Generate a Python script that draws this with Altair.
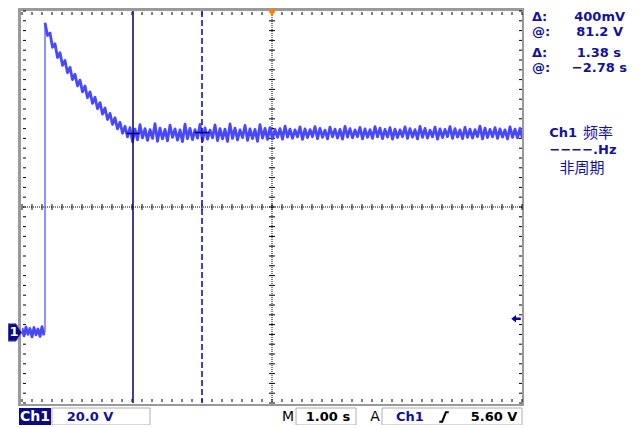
import altair as alt
import pandas as pd

# ---------------- values read from the screen ----------------
# pre-trigger samples (V), 0.04 s apart starting at -5.0 s
pre_t0, pre_dt = -5.0, 0.04
pre_v = [1.8, -1.4, 2.2, -0.8, 1.6, -1.8, 2.0, -1.0, 1.4, -1.6, 2.4, -1.2]

# step edge (s) and its bottom / top levels (V)
edge_t = -4.54
edge_v = [0.0, 126.4]

# samples after the step (V), 0.05 s apart starting at -4.54 s
main_t0, main_dt = -4.54, 0.05
decay_v = [126.4, 121.2, 122.2, 116.4, 117.8, 112.2, 114.2, 109.0, 111.0, 106.0,
           108.2, 103.2, 105.4, 100.6, 103.0, 98.2, 100.6, 95.8, 98.2, 93.5,
           96.0, 91.3, 93.8, 89.1, 91.6, 86.9, 89.4, 84.9, 87.6, 83.1,
           85.8, 81.3, 84.1, 79.8]
flat_v = [83.6, 77.8, 83.0, 78.6, 84.8, 79.4, 83.2, 78.4, 82.8, 79.2,
          85.2, 78.0, 83.4, 79.0, 82.9, 78.2, 84.6, 79.6, 83.1, 78.5,
          82.7, 77.9, 85.0, 79.1, 83.3, 78.7, 82.8, 79.3, 84.9, 78.1,
          83.5, 78.9, 82.6, 79.4, 84.7, 78.3, 83.2, 79.0, 83.0, 77.9,
          85.1, 79.2, 83.4, 78.6, 82.7, 79.5, 84.5, 78.4, 83.1, 79.1,
          82.9, 78.0, 84.8, 79.3, 83.3, 78.8,
          83.6, 79.0, 82.9, 79.6, 83.2, 78.9, 84.2, 79.7, 83.0, 79.2,
          82.7, 79.8, 83.9, 78.8, 83.1, 79.5, 82.8, 79.9, 84.0, 79.1,
          83.3, 79.6, 82.6, 79.0, 83.8, 79.8, 83.0, 79.3, 82.9, 78.9,
          84.1, 79.7, 83.2, 79.4, 82.7, 79.9, 83.7, 79.0, 83.1, 79.6,
          82.8, 79.2, 84.0, 79.8, 83.4, 79.1, 82.9, 79.7, 83.6, 78.9,
          83.0, 79.5, 82.7, 79.9, 83.9, 79.2, 83.2, 79.7, 82.8, 79.0,
          84.1, 79.6, 83.3, 79.3, 82.6, 79.8, 83.8, 78.9, 83.1, 79.5,
          82.9, 79.9, 84.0, 79.2, 83.2, 79.7, 82.7, 79.1, 83.7, 79.6,
          83.0, 79.3, 82.8, 79.9, 84.2, 79.0, 83.4, 79.5, 82.9, 79.8,
          83.6, 79.2, 83.1, 79.7, 82.7, 79.0, 83.9, 79.6, 83.0, 79.4,
          83.3, 79.1]

# cursors
cursor_t = [-2.78, -1.40]
cursor_v = [81.2, 81.6]
trigger_level = 5.60

# screen scales (1 s/div, 20 V/div)
x_major = [-5, -4, -3, -2, -1, 0, 1, 2, 3, 4, 5]
y_major = [-28.8, -8.8, 11.2, 31.2, 51.2, 71.2, 91.2, 111.2, 131.2]
x_minor = [round(-5 + 0.2 * k, 2) for k in range(51)]
y_minor = [round(-28.8 + 4 * k, 2) for k in range(41)]

# ---------------- styling ----------------
W, H = 500, 392
TRACE = "#4848ff"
TXT = "#12129a"
GRAY = "#9a9a9a"
FONT = "DejaVu Sans"

XS = alt.Scale(domain=[-5, 5], nice=False, zero=False)
YS = alt.Scale(domain=[-28.8, 131.2], nice=False, zero=False)

main_v = decay_v + flat_v
pre_df = pd.DataFrame({"t": [pre_t0 + i * pre_dt for i in range(len(pre_v))], "v": pre_v})
pre_df["i"] = range(len(pre_df))
main_df = pd.DataFrame({"t": [main_t0 + i * main_dt for i in range(len(main_v))], "v": main_v})
main_df["i"] = range(len(main_df))

ONE = pd.DataFrame({"a": [0]})


def box(x1, x2, y1, y2, **kw):
    return alt.Chart(ONE).mark_rect(**kw).encode(
        x=alt.value(x1), x2=alt.value(x2), y=alt.value(y1), y2=alt.value(y2))


def label(text, x, y, size=13, color=TXT, align="left", weight="bold", font=FONT):
    return alt.Chart(ONE).mark_text(
        text=text, align=align, baseline="middle", fontSize=size,
        fontWeight=weight, font=font, color=color).encode(
        x=alt.value(x), y=alt.value(y))


x_axis = alt.Axis(values=x_major, grid=True, gridColor="#000000", gridDash=[1, 8.8],
                  gridWidth=1, labels=False, ticks=False, domain=False, title=None)
y_axis = alt.Axis(values=y_major, grid=True, gridColor="#000000", gridDash=[1, 9],
                  gridWidth=1, labels=False, ticks=False, domain=False, title=None)

grid = alt.Chart(pd.DataFrame({"t": [-5, 5], "v": [-28.8, 131.2]})).mark_point(opacity=0).encode(
    x=alt.X("t:Q", scale=XS, axis=x_axis), y=alt.Y("v:Q", scale=YS, axis=y_axis))

ymin = pd.DataFrame({"v": y_minor})
xmin = pd.DataFrame({"t": x_minor})
tk = dict(color="#000000", strokeWidth=1)
left_ticks = alt.Chart(ymin).mark_rule(**tk).encode(
    y=alt.Y("v:Q", scale=YS, axis=None), x=alt.value(1), x2=alt.value(4))
right_ticks = alt.Chart(ymin).mark_rule(**tk).encode(
    y=alt.Y("v:Q", scale=YS, axis=None), x=alt.value(497), x2=alt.value(500))
top_ticks = alt.Chart(xmin).mark_rule(**tk).encode(
    x=alt.X("t:Q", scale=XS, axis=None), y=alt.value(1), y2=alt.value(4))
bot_ticks = alt.Chart(xmin).mark_rule(**tk).encode(
    x=alt.X("t:Q", scale=XS, axis=None), y=alt.value(388), y2=alt.value(391))

cv = pd.DataFrame({"v": y_minor, "a": [-0.06] * len(y_minor), "b": [0.06] * len(y_minor)})
ch = pd.DataFrame({"t": x_minor, "a": [51.2 - 1.2] * len(x_minor), "b": [51.2 + 1.2] * len(x_minor)})
center_v_ticks = alt.Chart(cv).mark_rule(**tk).encode(
    y=alt.Y("v:Q", scale=YS, axis=None), x=alt.X("a:Q", scale=XS, axis=None), x2="b:Q")
center_h_ticks = alt.Chart(ch).mark_rule(**tk).encode(
    x=alt.X("t:Q", scale=XS, axis=None), y=alt.Y("a:Q", scale=YS, axis=None), y2="b:Q")
center_v = alt.Chart(pd.DataFrame({"t": [0]})).mark_rule(strokeDash=[1, 1], **tk).encode(
    x=alt.X("t:Q", scale=XS, axis=None))
center_h = alt.Chart(pd.DataFrame({"v": [51.2]})).mark_rule(strokeDash=[1, 1], **tk).encode(
    y=alt.Y("v:Q", scale=YS, axis=None))

lk = dict(color=TRACE, strokeWidth=2.8, strokeJoin="round", clip=True)
pre_line = alt.Chart(pre_df).mark_line(**lk).encode(
    x=alt.X("t:Q", scale=XS, axis=None), y=alt.Y("v:Q", scale=YS, axis=None), order="i:Q")
main_line = alt.Chart(main_df).mark_line(**lk).encode(
    x=alt.X("t:Q", scale=XS, axis=None), y=alt.Y("v:Q", scale=YS, axis=None), order="i:Q")
edge = alt.Chart(pd.DataFrame({"t": [edge_t], "a": [edge_v[0]], "b": [edge_v[1]]})).mark_rule(
    color=TRACE, strokeWidth=1.2).encode(
    x=alt.X("t:Q", scale=XS, axis=None), y=alt.Y("a:Q", scale=YS, axis=None), y2="b:Q")

cur1 = alt.Chart(pd.DataFrame({"t": [cursor_t[0]]})).mark_rule(color="#00006e", strokeWidth=1.5).encode(
    x=alt.X("t:Q", scale=XS, axis=None))
cur2 = alt.Chart(pd.DataFrame({"t": [cursor_t[1]]})).mark_rule(
    color="#1010c8", strokeWidth=1.6, strokeDash=[6, 3]).encode(x=alt.X("t:Q", scale=XS, axis=None))
cross = alt.Chart(pd.DataFrame({
    "v": cursor_v,
    "a": [cursor_t[0] - 0.13, cursor_t[1] - 0.15],
    "b": [cursor_t[0] + 0.13, cursor_t[1] + 0.15]})).mark_rule(color="#00006e", strokeWidth=1.5).encode(
    y=alt.Y("v:Q", scale=YS, axis=None), x=alt.X("a:Q", scale=XS, axis=None), x2="b:Q")

frame = [
    box(-4, -1, -3, 395, fill=GRAY),
    box(-4, 502, -3, 0, fill=GRAY),
    box(-4, 502, 393, 395, fill=GRAY),
    box(500, 502, -3, 395, fill=GRAY),
]

trig_pos = alt.Chart(pd.DataFrame({"t": [0]})).mark_point(
    shape="triangle-down", filled=True, color="#ff8200", size=70, opacity=1).encode(
    x=alt.X("t:Q", scale=XS, axis=None), y=alt.value(2))
trig_lvl = alt.Chart(pd.DataFrame({"v": [trigger_level]})).mark_point(
    shape="M -1 0 L 0 -0.8 L 0 -0.25 L 1 -0.25 L 1 0.25 L 0 0.25 L 0 0.8 Z",
    filled=True, color="#0000b4", size=90, opacity=1).encode(
    y=alt.Y("v:Q", scale=YS, axis=None), x=alt.value(494))

gnd = alt.Chart(pd.DataFrame({"v": [0]})).mark_point(
    shape="M -1 -1.25 L 0.15 -1.25 L 1 0 L 0.15 1.25 L -1 1.25 Z",
    filled=True, fill="#0a0a84", stroke="#7a7ac8", strokeWidth=1, size=196, opacity=1).encode(
    y=alt.Y("v:Q", scale=YS, axis=None), x=alt.value(-7))
gnd_txt = alt.Chart(pd.DataFrame({"v": [0]})).mark_text(
    text="1", fontSize=13, fontWeight="bold", font=FONT, color="white", baseline="middle").encode(
    y=alt.Y("v:Q", scale=YS, axis=None), x=alt.value(-8))

readouts = [
    label("Δ:", 510, 6), label("400mV", 603, 6, align="right"),
    label("@:", 510, 21), label("81.2 V", 601, 21, align="right"),
    label("Δ:", 510, 42), label("1.38 s", 599, 42, align="right"),
    label("@:", 510, 57), label("−2.78 s", 605, 57, align="right"),
    label("Ch1", 555, 122, align="right"),
    label("频率", 561, 122, size=15, weight="normal", font="Noto Sans CJK SC"),
    label("−−−−.Hz", 561, 139, align="center"),
    label("非周期", 560, 157, size=15, weight="normal", font="Noto Sans CJK SC", align="center"),
]

status = [
    box(-3, 29, 397, 414, fill="#0a0a84"),
    label("Ch1", 13, 406, size=14, color="white", align="center"),
    box(30, 128, 397, 414, fill="white", stroke="#b0b0b0", strokeWidth=1),
    label("20.0 V", 68, 406, size=13, align="center"),
    label("M", 266, 406, size=14, color="#000000", align="center", weight="normal"),
    box(274, 334, 397, 414, fill="white", stroke="#b0b0b0", strokeWidth=1),
    label("1.00 s", 306, 406, size=13, color="#000000", align="center"),
    label("A", 353, 406, size=14, color="#000000", align="center", weight="normal"),
    box(360, 500, 397, 414, fill="white", stroke="#b0b0b0", strokeWidth=1),
    label("Ch1", 388, 406, size=13, align="center"),
    alt.Chart(ONE).mark_point(shape="M -0.9 0.9 L -0.35 0.9 L 0.35 -0.9 L 0.9 -0.9",
                              filled=False, stroke="#000000", strokeWidth=2, size=110, opacity=1).encode(
        x=alt.value(422), y=alt.value(406)),
    label("5.60 V", 472, 406, size=13, color="#000000", align="center"),
]

chart = alt.layer(
    grid, *frame, left_ticks, right_ticks, top_ticks, bot_ticks,
    center_v, center_h, center_v_ticks, center_h_ticks,
    pre_line, edge, main_line, cur1, cur2, cross, trig_pos, trig_lvl, gnd, gnd_txt,
    *readouts, *status,
).properties(
    width=W, height=H, autosize="none",
    padding={"left": 14, "top": 3, "right": 110, "bottom": 22},
    background="white",
).configure_view(stroke=None)

chart.save("out.html", embed_options={"renderer": "svg", "actions": False})
